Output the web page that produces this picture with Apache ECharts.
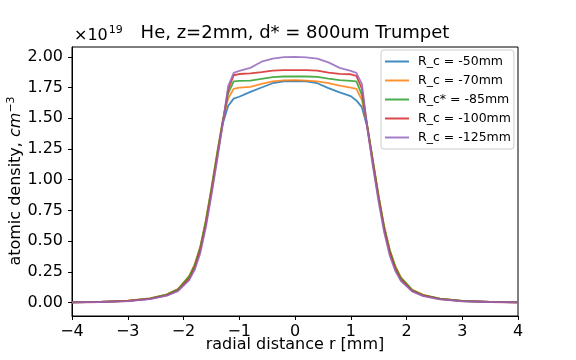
<!DOCTYPE html>
<html>
<head>
<meta charset="utf-8">
<script src="https://cdn.jsdelivr.net/npm/echarts@6.0.0/dist/echarts.min.js"></script>
<style>
  html, body {margin: 0; padding: 0; background: #fff;}
  #main {width: 576px; height: 360px;}
</style>
</head>
<body>
<div id="main"></div>
<script>
function $(id) {return document.getElementById(id)}

// radial positions [mm]
var radius = [-4, -3.5, -3, -2.6, -2.3, -2.1, -1.9, -1.8, -1.7, -1.6, -1.5, -1.4, -1.3, -1.2, -1.1, -1.0,
  -0.8, -0.6, -0.4, -0.2, 0, 0.2, 0.4, 0.6, 0.8, 1.0, 1.1, 1.2, 1.3, 1.4, 1.5, 1.6, 1.7, 1.8, 1.9,
  2.1, 2.3, 2.6, 3.0, 3.5, 4.0];

// atomic density, x1e19 cm^-3
var rc50 = [0.002, 0.005, 0.013, 0.032, 0.062, 0.105, 0.205, 0.30, 0.44, 0.65, 0.91, 1.19, 1.45, 1.60, 1.66, 1.675,
  1.715, 1.75, 1.785, 1.80, 1.803, 1.80, 1.785, 1.745, 1.71, 1.68, 1.645, 1.59, 1.42, 1.14, 0.86, 0.61, 0.42, 0.285, 0.195,
  0.10, 0.058, 0.03, 0.012, 0.005, 0.002];
var rc70 = [0.002, 0.005, 0.014, 0.034, 0.066, 0.11, 0.215, 0.31, 0.455, 0.67, 0.93, 1.21, 1.47, 1.66, 1.74, 1.75,
  1.756, 1.78, 1.80, 1.808, 1.81, 1.806, 1.80, 1.785, 1.765, 1.75, 1.74, 1.65, 1.43, 1.15, 0.87, 0.62, 0.43, 0.295, 0.205,
  0.105, 0.062, 0.032, 0.013, 0.005, 0.002];
var rc85 = [0.002, 0.005, 0.013, 0.033, 0.064, 0.107, 0.21, 0.30, 0.445, 0.66, 0.92, 1.20, 1.47, 1.70, 1.80, 1.805,
  1.806, 1.82, 1.834, 1.84, 1.841, 1.84, 1.836, 1.822, 1.81, 1.805, 1.80, 1.69, 1.43, 1.14, 0.86, 0.61, 0.42, 0.29, 0.20,
  0.102, 0.06, 0.031, 0.012, 0.005, 0.002];
var rc100 = [0.001, 0.004, 0.012, 0.030, 0.058, 0.098, 0.19, 0.28, 0.42, 0.63, 0.89, 1.17, 1.45, 1.73, 1.85, 1.86,
  1.866, 1.876, 1.888, 1.892, 1.892, 1.891, 1.888, 1.872, 1.862, 1.858, 1.845, 1.74, 1.42, 1.12, 0.84, 0.59, 0.40, 0.27, 0.185,
  0.094, 0.055, 0.028, 0.011, 0.004, 0.001];
var rc125 = [0.001, 0.004, 0.011, 0.028, 0.055, 0.092, 0.18, 0.265, 0.40, 0.61, 0.87, 1.15, 1.44, 1.76, 1.87, 1.885,
  1.91, 1.96, 1.985, 1.997, 2.0, 1.996, 1.985, 1.955, 1.91, 1.885, 1.87, 1.78, 1.41, 1.10, 0.82, 0.57, 0.38, 0.255, 0.175,
  0.09, 0.052, 0.026, 0.010, 0.004, 0.001];

var seriesNames = ['R_c = -50mm', 'R_c = -70mm', 'R_c* = -85mm', 'R_c = -100mm', 'R_c = -125mm'];
var seriesData = [rc50, rc70, rc85, rc100, rc125];
var colors = ['#1f77b4', '#ff7f0e', '#2ca02c', '#d62728', '#9467bd'];

var yTicks = [0, 0.25, 0.5, 0.75, 1.0, 1.25, 1.5, 1.75, 2.0];

var font = 'DejaVu Sans';

function pairs(ys) {
  return radius.map(function (r, i) {return [r, ys[i]]});
}

var chart = echarts.init($('main'), null, {renderer: 'canvas'});
chart.setOption({
  animation: false,
  color: colors,
  textStyle: {fontFamily: font},
  grid: {
    left: 72,
    right: 58,
    top: 47,
    bottom: 44,
    show: true,
    borderColor: '#000',
    borderWidth: 1
  },
  legend: {
    orient: 'vertical',
    left: 381,
    top: 50,
    padding: [4, 3, 4, 4],
    icon: 'rect',
    itemWidth: 24,
    itemHeight: 2,
    itemGap: 4,
    itemStyle: {opacity: 0.85},
    borderColor: '#cccccc',
    borderWidth: 1,
    borderRadius: 3,
    textStyle: {fontFamily: font, fontSize: 12.5, color: '#000', lineHeight: 15, padding: [0, 0, 0, 4]},
    data: seriesNames
  },
  xAxis: {
    type: 'value',
    min: -4,
    max: 4,
    interval: 1,
    splitLine: {show: false},
    axisLine: {onZero: false, lineStyle: {color: '#000'}},
    axisTick: {length: 4, lineStyle: {color: '#000'}},
    axisLabel: {
      margin: 8,
      fontSize: 16,
      color: '#000',
      fontFamily: font,
      formatter: function (v) {return String(v).replace('-', '\u2212')}
    }
  },
  yAxis: {
    type: 'value',
    min: -0.11,
    max: 2.08,
    splitLine: {show: false},
    axisLine: {onZero: false, lineStyle: {color: '#000'}},
    axisTick: {length: 4, lineStyle: {color: '#000'}, customValues: yTicks},
    axisLabel: {
      margin: 9,
      fontSize: 16,
      color: '#000',
      fontFamily: font,
      customValues: yTicks,
      formatter: function (v) {return v.toFixed(2)}
    }
  },
  series: seriesData.map(function (d, i) {
    return {
      name: seriesNames[i],
      type: 'line',
      symbol: 'none',
      data: pairs(d),
      lineStyle: {width: 1.8, opacity: 0.85},
      itemStyle: {opacity: 0.85}
    };
  }),
  graphic: [
    {
      type: 'text',
      x: 295,
      y: 33,
      style: {
        text: 'He, z=2mm, d* = 800um Trumpet',
        font: '18px "DejaVu Sans"',
        fill: '#000',
        align: 'center',
        verticalAlign: 'middle'
      }
    },
    {
      type: 'text',
      x: 74,
      y: 25,
      style: {
        text: '{a|\u00d710}{b|19}',
        fill: '#000',
        rich: {
          a: {fontSize: 16, fontFamily: font, verticalAlign: 'bottom', lineHeight: 18},
          b: {fontSize: 11, fontFamily: font, verticalAlign: 'top', padding: [0, 0, 8, 1]}
        }
      }
    },
    {
      type: 'text',
      x: 16,
      y: 181,
      rotation: Math.PI / 2,
      style: {
        text: '{a|atomic density, }{i|cm}{s|\u22123}',
        fill: '#000',
        align: 'center',
        verticalAlign: 'middle',
        rich: {
          a: {fontSize: 16, fontFamily: font},
          i: {fontSize: 16, fontFamily: font, fontStyle: 'italic'},
          s: {fontSize: 11, fontFamily: font, padding: [0, 0, 9, 0]}
        }
      }
    },
    {
      type: 'text',
      x: 295,
      y: 345,
      style: {
        text: 'radial distance r [mm]',
        font: '16px "DejaVu Sans"',
        fill: '#000',
        align: 'center',
        verticalAlign: 'middle'
      }
    }
  ]
});
</script>
</body>
</html>
